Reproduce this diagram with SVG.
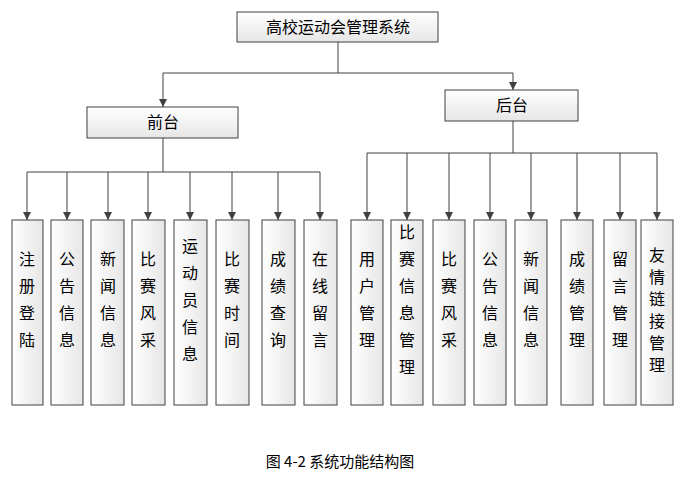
<svg xmlns="http://www.w3.org/2000/svg" width="678" height="479" viewBox="0 0 678 479">
<defs>
<linearGradient id="g" x1="0" y1="0" x2="0" y2="1"><stop offset="0" stop-color="#ffffff"/><stop offset="1" stop-color="#e6e6e6"/></linearGradient>
<linearGradient id="gv" x1="0" y1="0" x2="1" y2="0"><stop offset="0" stop-color="#ffffff"/><stop offset="1" stop-color="#e6e6e6"/></linearGradient>
<marker id="a" viewBox="0 0 10 10" refX="10" refY="5" markerWidth="8" markerHeight="8" orient="auto" markerUnits="userSpaceOnUse"><path d="M0,0 L10,5 L0,10 z" fill="#404040"/></marker>
<style>
.b{fill:url(#g);stroke:#404040;stroke-width:1}
.v{fill:url(#gv);stroke:#404040;stroke-width:1}
.t{font-family:"Noto Sans CJK SC","Noto Sans",sans-serif;font-size:16px;fill:#000;text-anchor:middle}
.c{fill:none;stroke:#404040;stroke-width:1}
</style>
</defs>
<rect width="678" height="479" fill="#fff"/>
<g id="connectors">
<path class="c" d="M338,42 V73 M163,73 H513"/>
<path class="c" d="M163,73 V107" marker-end="url(#a)"/>
<path class="c" d="M513,73 V90" marker-end="url(#a)"/>
<path class="c" d="M163,138 V172 M27,172 H320"/>
<g marker-end="url(#a)" class="c"><path d="M27,172 V220"/><path d="M67,172 V220"/><path d="M108,172 V220"/><path d="M148,172 V220"/><path d="M190,172 V220"/><path d="M232,172 V220"/><path d="M278,172 V220"/><path d="M320,172 V220"/></g>
<path class="c" d="M513,121 V153 M367,153 H657"/>
<g marker-end="url(#a)" class="c"><path d="M367,153 V220"/><path d="M407,153 V220"/><path d="M449,153 V220"/><path d="M490,153 V220"/><path d="M531,153 V220"/><path d="M577,153 V220"/><path d="M620,153 V220"/><path d="M657,153 V220"/></g>
</g>
<g id="root"><rect class="b" x="237" y="12" width="201" height="30"/><text class="t" x="338" y="33">高校运动会管理系统</text></g>
<g id="front"><rect class="b" x="87" y="107" width="151" height="31"/><text class="t" x="163" y="128">前台</text></g>
<g id="back"><rect class="b" x="445" y="90" width="133" height="31"/><text class="t" x="512" y="111">后台</text></g>
<g id="f1"><rect class="v" x="12" y="220" width="31" height="185"/><text class="t" x="27"><tspan x="27" y="265">注</tspan><tspan x="27" y="292">册</tspan><tspan x="27" y="319">登</tspan><tspan x="27" y="346">陆</tspan></text></g>
<g id="f2"><rect class="v" x="51" y="220" width="32" height="185"/><text class="t"><tspan x="67" y="265">公</tspan><tspan x="67" y="292">告</tspan><tspan x="67" y="319">信</tspan><tspan x="67" y="346">息</tspan></text></g>
<g id="f3"><rect class="v" x="91" y="220" width="33" height="185"/><text class="t"><tspan x="108" y="265">新</tspan><tspan x="108" y="292">闻</tspan><tspan x="108" y="319">信</tspan><tspan x="108" y="346">息</tspan></text></g>
<g id="f4"><rect class="v" x="132" y="220" width="33" height="185"/><text class="t"><tspan x="148" y="265">比</tspan><tspan x="148" y="292">赛</tspan><tspan x="148" y="319">风</tspan><tspan x="148" y="346">采</tspan></text></g>
<g id="f5"><rect class="v" x="174" y="220" width="33" height="185"/><text class="t"><tspan x="190" y="252">运</tspan><tspan x="190" y="279">动</tspan><tspan x="190" y="306">员</tspan><tspan x="190" y="333">信</tspan><tspan x="190" y="360">息</tspan></text></g>
<g id="f6"><rect class="v" x="216" y="220" width="33" height="185"/><text class="t"><tspan x="232" y="265">比</tspan><tspan x="232" y="292">赛</tspan><tspan x="232" y="319">时</tspan><tspan x="232" y="346">间</tspan></text></g>
<g id="f7"><rect class="v" x="262" y="220" width="33" height="185"/><text class="t"><tspan x="278" y="265">成</tspan><tspan x="278" y="292">绩</tspan><tspan x="278" y="319">查</tspan><tspan x="278" y="346">询</tspan></text></g>
<g id="f8"><rect class="v" x="304" y="220" width="33" height="185"/><text class="t"><tspan x="320" y="265">在</tspan><tspan x="320" y="292">线</tspan><tspan x="320" y="319">留</tspan><tspan x="320" y="346">言</tspan></text></g>
<g id="b1"><rect class="v" x="351" y="220" width="32" height="185"/><text class="t"><tspan x="367" y="265">用</tspan><tspan x="367" y="292">户</tspan><tspan x="367" y="319">管</tspan><tspan x="367" y="346">理</tspan></text></g>
<g id="b2"><rect class="v" x="391" y="220" width="32" height="185"/><text class="t"><tspan x="407" y="238">比</tspan><tspan x="407" y="265">赛</tspan><tspan x="407" y="292">信</tspan><tspan x="407" y="319">息</tspan><tspan x="407" y="346">管</tspan><tspan x="407" y="373">理</tspan></text></g>
<g id="b3"><rect class="v" x="433" y="220" width="32" height="185"/><text class="t"><tspan x="449" y="265">比</tspan><tspan x="449" y="292">赛</tspan><tspan x="449" y="319">风</tspan><tspan x="449" y="346">采</tspan></text></g>
<g id="b4"><rect class="v" x="474" y="220" width="32" height="185"/><text class="t"><tspan x="490" y="265">公</tspan><tspan x="490" y="292">告</tspan><tspan x="490" y="319">信</tspan><tspan x="490" y="346">息</tspan></text></g>
<g id="b5"><rect class="v" x="515" y="220" width="32" height="185"/><text class="t"><tspan x="531" y="265">新</tspan><tspan x="531" y="292">闻</tspan><tspan x="531" y="319">信</tspan><tspan x="531" y="346">息</tspan></text></g>
<g id="b6"><rect class="v" x="561" y="220" width="32" height="185"/><text class="t"><tspan x="577" y="265">成</tspan><tspan x="577" y="292">绩</tspan><tspan x="577" y="319">管</tspan><tspan x="577" y="346">理</tspan></text></g>
<g id="b7"><rect class="v" x="604" y="220" width="32" height="185"/><text class="t"><tspan x="620" y="265">留</tspan><tspan x="620" y="292">言</tspan><tspan x="620" y="319">管</tspan><tspan x="620" y="346">理</tspan></text></g>
<g id="b8"><rect class="v" x="641" y="220" width="32" height="185"/><text class="t"><tspan x="657" y="261">友</tspan><tspan x="657" y="283">情</tspan><tspan x="657" y="305">链</tspan><tspan x="657" y="327">接</tspan><tspan x="657" y="349">管</tspan><tspan x="657" y="371">理</tspan></text></g>
<text class="t" x="340" y="467" style="font-size:15px">图 4-2 系统功能结构图</text>
</svg>
